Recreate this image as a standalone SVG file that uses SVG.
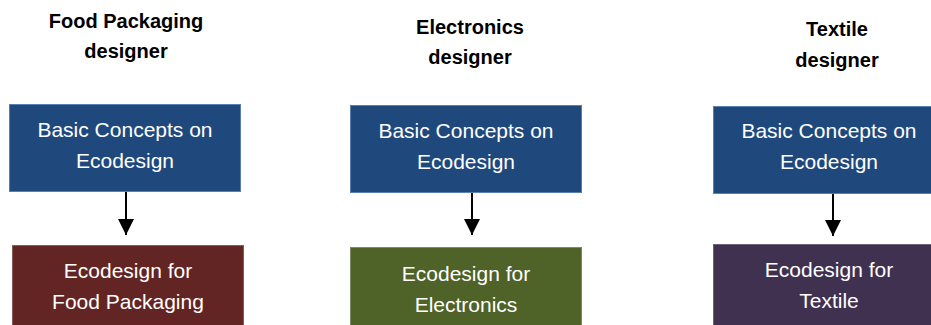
<svg xmlns="http://www.w3.org/2000/svg" width="931" height="325" viewBox="0 0 931 325">
<style>
.title{font-family:"Liberation Sans",Arial,sans-serif;font-weight:bold;font-size:20px;fill:#000;text-anchor:middle}
.lbl{font-family:"Liberation Sans",Arial,sans-serif;font-size:21px;fill:#fff;text-anchor:middle}
.blue{fill:#1F497D;stroke:#5a7fae;stroke-width:1}
.red{fill:#632523;stroke:#8a5a58;stroke-width:1}
.green{fill:#4F6228;stroke:#7d8c60;stroke-width:1}
.purple{fill:#403151;stroke:#6c6079;stroke-width:1}
.conn{stroke:#000;stroke-width:2;fill:none}
</style>
<defs>
<marker id="ah" viewBox="0 0 16 16" refX="16" refY="8" markerWidth="16" markerHeight="16" markerUnits="userSpaceOnUse" orient="auto">
<path d="M0,0 L16,8 L0,16 Z" fill="#000"/>
</marker>
</defs>
<g id="title-food">
<text class="title" x="126" y="28">Food Packaging</text>
<text class="title" x="126" y="58">designer</text>
</g>
<g id="title-electronics">
<text class="title" x="470" y="34">Electronics</text>
<text class="title" x="470" y="64">designer</text>
</g>
<g id="title-textile">
<text class="title" x="837" y="36">Textile</text>
<text class="title" x="837" y="67">designer</text>
</g>
<g id="basic-food">
<rect class="blue" x="9.5" y="104.5" width="231" height="87"/>
<text class="lbl" x="125" y="137">Basic Concepts on</text>
<text class="lbl" x="125" y="168">Ecodesign</text>
</g>
<g id="eco-food">
<rect class="red" x="12.5" y="245.5" width="231" height="85"/>
<text class="lbl" x="128" y="278">Ecodesign for</text>
<text class="lbl" x="128" y="309">Food Packaging</text>
</g>
<g id="basic-electronics">
<rect class="blue" x="350.5" y="105.5" width="231" height="87"/>
<text class="lbl" x="466" y="138">Basic Concepts on</text>
<text class="lbl" x="466" y="169">Ecodesign</text>
</g>
<g id="eco-electronics">
<rect class="green" x="350.5" y="247.5" width="231" height="85"/>
<text class="lbl" x="466" y="281">Ecodesign for</text>
<text class="lbl" x="466" y="312">Electronics</text>
</g>
<g id="basic-textile">
<rect class="blue" x="713.5" y="106.5" width="231" height="87"/>
<text class="lbl" x="829" y="138">Basic Concepts on</text>
<text class="lbl" x="829" y="169">Ecodesign</text>
</g>
<g id="eco-textile">
<rect class="purple" x="713.5" y="244.5" width="231" height="85"/>
<text class="lbl" x="829" y="277">Ecodesign for</text>
<text class="lbl" x="829" y="308">Textile</text>
</g>
<g id="connectors">
<line class="conn" x1="126" y1="192" x2="126" y2="235" marker-end="url(#ah)"/>
<line class="conn" x1="472" y1="193" x2="472" y2="235" marker-end="url(#ah)"/>
<line class="conn" x1="833" y1="194" x2="833" y2="236" marker-end="url(#ah)"/>
</g>
</svg>
